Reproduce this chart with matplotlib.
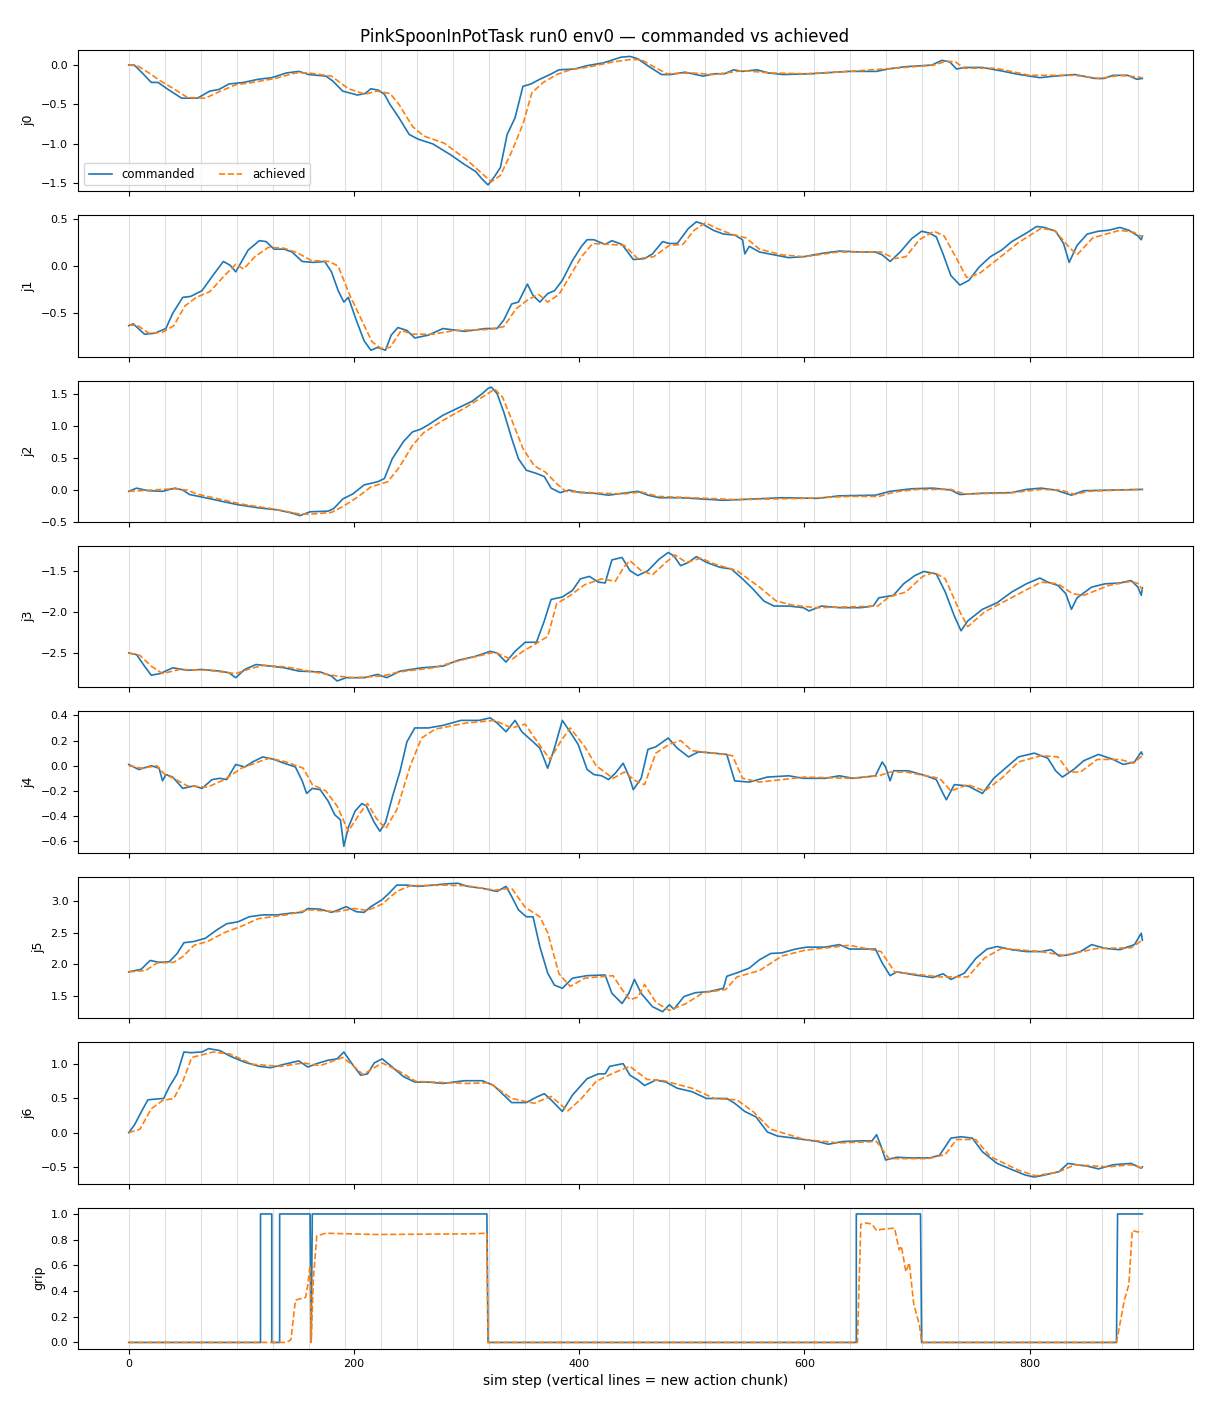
import matplotlib
matplotlib.use("Agg")
import matplotlib.pyplot as plt
from matplotlib.ticker import MultipleLocator

# new action chunk starts (sim steps)
chunk_steps = [0, 32, 64, 96, 128, 160, 192, 224, 256, 288, 320, 352, 384, 416,
               448, 480, 512, 544, 576, 608, 640, 672, 704, 736, 768, 800, 832,
               864, 896]

joint_names = ['j0', 'j1', 'j2', 'j3', 'j4', 'j5', 'j6', 'grip']

# (step, value)
j0_cmd = [(0, 0.0), (5, 0.0), (12, -0.10), (20, -0.22), (26, -0.22), (35, -0.31), (47, -0.42),
          (61, -0.42), (72, -0.33), (80, -0.31), (89, -0.24), (102, -0.22), (115, -0.18),
          (127, -0.16), (140, -0.10), (151, -0.08), (160, -0.12), (175, -0.14), (181, -0.20),
          (190, -0.33), (203, -0.38), (210, -0.36), (215, -0.30), (222, -0.32), (227, -0.37),
          (232, -0.50), (240, -0.67), (249, -0.88), (257, -0.94), (270, -1.00), (286, -1.14),
          (298, -1.26), (308, -1.35), (314, -1.45), (319, -1.52), (324, -1.43), (330, -1.30),
          (336, -0.88), (343, -0.67), (350, -0.27), (357, -0.24), (365, -0.18), (374, -0.12),
          (382, -0.06), (396, -0.05), (406, -0.01), (422, 0.03), (437, 0.10), (445, 0.11),
          (452, 0.08), (461, -0.01), (473, -0.12), (481, -0.12), (494, -0.09), (510, -0.14),
          (520, -0.11), (529, -0.11), (537, -0.06), (545, -0.08), (558, -0.06), (568, -0.10),
          (581, -0.12), (606, -0.11), (639, -0.08), (664, -0.08), (674, -0.05), (690, -0.02),
          (713, 0.0), (722, 0.06), (729, 0.04), (735, -0.05), (742, -0.03), (758, -0.03),
          (777, -0.08), (787, -0.11), (800, -0.14), (809, -0.16), (822, -0.14), (840, -0.12),
          (858, -0.17), (866, -0.17), (874, -0.13), (887, -0.13), (895, -0.18), (900, -0.17)]
j0_ach = [(0, 0.0), (8, -0.01), (18, -0.10), (28, -0.20), (40, -0.30), (52, -0.41), (68, -0.42),
          (80, -0.34), (95, -0.25), (110, -0.22), (130, -0.17), (148, -0.10), (160, -0.10),
          (180, -0.14), (195, -0.30), (210, -0.37), (220, -0.33), (232, -0.36), (240, -0.50),
          (252, -0.78), (262, -0.90), (280, -0.99), (300, -1.20), (314, -1.38), (322, -1.48),
          (330, -1.40), (340, -1.10), (350, -0.75), (358, -0.35), (368, -0.22), (380, -0.12),
          (392, -0.06), (410, -0.02), (430, 0.04), (445, 0.07), (455, 0.07), (466, -0.02),
          (478, -0.11), (500, -0.10), (520, -0.12), (545, -0.07), (570, -0.10), (600, -0.11),
          (640, -0.08), (680, -0.04), (715, 0.0), (726, 0.05), (734, 0.04), (742, -0.04),
          (770, -0.04), (800, -0.13), (840, -0.13), (862, -0.17), (880, -0.13), (895, -0.15),
          (900, -0.16)]

j1_cmd = [(0, -0.63), (4, -0.61), (14, -0.72), (23, -0.71), (33, -0.66), (39, -0.50), (48, -0.33),
          (55, -0.32), (65, -0.26), (74, -0.11), (84, 0.05), (90, 0.01), (95, -0.06), (106, 0.17),
          (116, 0.27), (122, 0.26), (129, 0.18), (138, 0.18), (145, 0.15), (154, 0.05),
          (164, 0.04), (174, 0.05), (180, -0.06), (186, -0.26), (191, -0.38), (195, -0.33),
          (202, -0.57), (209, -0.79), (215, -0.89), (221, -0.86), (228, -0.89), (233, -0.73),
          (239, -0.65), (247, -0.68), (254, -0.76), (266, -0.73), (279, -0.66), (298, -0.69),
          (317, -0.66), (327, -0.66), (333, -0.57), (340, -0.40), (346, -0.38), (354, -0.19),
          (359, -0.31), (365, -0.38), (372, -0.29), (378, -0.26), (385, -0.15), (394, 0.06),
          (402, 0.21), (407, 0.28), (413, 0.28), (423, 0.23), (429, 0.27), (438, 0.23),
          (448, 0.07), (458, 0.08), (465, 0.13), (474, 0.26), (480, 0.24), (487, 0.24),
          (497, 0.40), (504, 0.47), (509, 0.45), (519, 0.38), (528, 0.34), (538, 0.33),
          (545, 0.28), (547, 0.13), (551, 0.21), (560, 0.15), (573, 0.12), (586, 0.09),
          (599, 0.10), (618, 0.14), (631, 0.16), (650, 0.15), (663, 0.15), (669, 0.12),
          (676, 0.05), (685, 0.15), (695, 0.29), (704, 0.37), (711, 0.35), (717, 0.31),
          (723, 0.13), (730, -0.10), (738, -0.20), (746, -0.15), (755, -0.01), (765, 0.10),
          (775, 0.17), (784, 0.26), (797, 0.35), (806, 0.42), (813, 0.41), (823, 0.37),
          (830, 0.24), (835, 0.04), (842, 0.22), (851, 0.34), (861, 0.37), (870, 0.38),
          (880, 0.41), (888, 0.38), (896, 0.32), (899, 0.28), (900, 0.32)]
j1_ach = [(0, -0.62), (8, -0.63), (18, -0.71), (30, -0.70), (40, -0.63), (50, -0.42), (60, -0.33),
          (72, -0.27), (85, -0.10), (95, 0.02), (102, -0.03), (112, 0.10), (124, 0.20),
          (138, 0.19), (150, 0.14), (162, 0.06), (178, 0.05), (186, 0.0), (196, -0.30),
          (206, -0.55), (216, -0.80), (224, -0.87), (232, -0.86), (242, -0.68), (252, -0.72),
          (270, -0.72), (290, -0.68), (320, -0.67), (333, -0.64), (344, -0.45), (355, -0.35),
          (364, -0.30), (372, -0.38), (382, -0.30), (392, -0.10), (402, 0.10), (412, 0.24),
          (428, 0.23), (440, 0.22), (452, 0.08), (466, 0.10), (480, 0.22), (492, 0.23),
          (502, 0.38), (512, 0.46), (522, 0.40), (535, 0.34), (548, 0.30), (560, 0.18),
          (580, 0.12), (600, 0.10), (630, 0.15), (668, 0.15), (680, 0.08), (690, 0.10),
          (702, 0.28), (715, 0.37), (724, 0.32), (735, 0.08), (744, -0.12), (755, -0.08),
          (770, 0.06), (790, 0.25), (810, 0.40), (822, 0.38), (835, 0.20), (842, 0.12),
          (856, 0.30), (880, 0.38), (892, 0.36), (900, 0.31)]

j2_cmd = [(0, -0.02), (7, 0.03), (17, -0.01), (30, -0.02), (41, 0.03), (48, 0.0), (54, -0.07),
          (68, -0.12), (81, -0.17), (97, -0.23), (116, -0.28), (132, -0.31), (145, -0.36),
          (152, -0.40), (161, -0.34), (177, -0.33), (182, -0.29), (190, -0.14), (199, -0.06),
          (209, 0.08), (221, 0.13), (227, 0.18), (234, 0.49), (244, 0.76), (252, 0.91),
          (259, 0.95), (266, 1.02), (279, 1.17), (292, 1.28), (305, 1.39), (314, 1.51),
          (319, 1.59), (322, 1.61), (327, 1.51), (333, 1.22), (340, 0.81), (346, 0.49),
          (353, 0.31), (362, 0.26), (369, 0.21), (375, 0.03), (383, -0.04), (391, 0.0),
          (401, -0.04), (413, -0.05), (426, -0.08), (439, -0.05), (452, -0.02), (461, -0.08),
          (471, -0.12), (490, -0.12), (509, -0.14), (528, -0.16), (554, -0.14), (580, -0.12),
          (612, -0.13), (631, -0.09), (663, -0.08), (676, -0.02), (695, 0.02), (714, 0.03),
          (730, 0.0), (738, -0.07), (757, -0.05), (784, -0.04), (797, 0.01), (810, 0.03),
          (823, 0.0), (837, -0.08), (848, -0.01), (874, 0.0), (900, 0.01)]
j2_ach = [(0, -0.02), (20, 0.0), (40, 0.02), (52, 0.0), (60, -0.06), (80, -0.14), (100, -0.22),
          (130, -0.30), (150, -0.37), (160, -0.38), (180, -0.35), (190, -0.26), (204, -0.10),
          (215, 0.05), (230, 0.13), (240, 0.35), (252, 0.70), (262, 0.90), (280, 1.10),
          (300, 1.30), (318, 1.50), (325, 1.58), (332, 1.45), (340, 1.10), (350, 0.65),
          (360, 0.38), (370, 0.28), (380, 0.10), (388, -0.02), (400, -0.03), (420, -0.05),
          (440, -0.06), (455, -0.03), (470, -0.10), (500, -0.12), (540, -0.15), (600, -0.13),
          (640, -0.10), (666, -0.10), (680, -0.03), (700, 0.01), (730, 0.01), (742, -0.06),
          (780, -0.05), (810, 0.01), (828, 0.0), (840, -0.07), (852, -0.02), (880, 0.0),
          (900, 0.01)]

j3_cmd = [(0, -2.50), (7, -2.52), (14, -2.66), (20, -2.77), (28, -2.75), (39, -2.68), (52, -2.71),
          (65, -2.70), (81, -2.72), (89, -2.74), (95, -2.80), (103, -2.70), (113, -2.64),
          (126, -2.66), (138, -2.68), (151, -2.72), (170, -2.73), (180, -2.78), (185, -2.84),
          (193, -2.80), (209, -2.80), (221, -2.76), (229, -2.80), (241, -2.72), (260, -2.68),
          (279, -2.66), (292, -2.59), (308, -2.54), (321, -2.48), (327, -2.50), (335, -2.61),
          (343, -2.48), (352, -2.37), (362, -2.37), (369, -2.11), (375, -1.85), (385, -1.82),
          (394, -1.74), (401, -1.60), (409, -1.57), (417, -1.64), (423, -1.65), (429, -1.37),
          (438, -1.34), (445, -1.50), (452, -1.56), (461, -1.50), (471, -1.36), (479, -1.28),
          (484, -1.32), (490, -1.44), (497, -1.40), (504, -1.33), (513, -1.40), (525, -1.46),
          (535, -1.48), (545, -1.60), (554, -1.72), (564, -1.87), (573, -1.93), (586, -1.93),
          (599, -1.95), (604, -1.99), (615, -1.93), (631, -1.95), (650, -1.95), (661, -1.93),
          (666, -1.83), (679, -1.80), (688, -1.66), (698, -1.56), (706, -1.51), (717, -1.54),
          (725, -1.76), (733, -2.05), (739, -2.23), (745, -2.11), (758, -1.97), (771, -1.89),
          (784, -1.76), (797, -1.66), (809, -1.59), (816, -1.64), (825, -1.68), (832, -1.78),
          (837, -1.97), (842, -1.83), (855, -1.70), (867, -1.66), (880, -1.65), (890, -1.62),
          (896, -1.70), (899, -1.80), (900, -1.71)]
j3_ach = [(0, -2.50), (10, -2.53), (20, -2.66), (30, -2.75), (45, -2.70), (70, -2.71),
          (95, -2.75), (108, -2.69), (120, -2.65), (140, -2.67), (160, -2.72), (185, -2.78),
          (200, -2.80), (225, -2.78), (240, -2.73), (270, -2.68), (300, -2.57), (325, -2.49),
          (340, -2.58), (350, -2.48), (360, -2.40), (372, -2.30), (380, -1.90), (390, -1.82),
          (405, -1.67), (420, -1.60), (432, -1.63), (440, -1.45), (445, -1.38), (455, -1.50),
          (465, -1.55), (477, -1.40), (485, -1.31), (495, -1.40), (508, -1.35), (520, -1.42),
          (540, -1.50), (560, -1.70), (575, -1.87), (590, -1.92), (610, -1.95), (640, -1.94),
          (665, -1.93), (675, -1.82), (690, -1.76), (705, -1.57), (715, -1.52), (725, -1.60),
          (738, -2.00), (745, -2.18), (760, -2.00), (785, -1.82), (810, -1.64), (825, -1.66),
          (838, -1.78), (848, -1.80), (870, -1.68), (890, -1.63), (897, -1.66), (900, -1.74)]

j4_cmd = [(0, 0.01), (9, -0.03), (20, 0.0), (27, -0.02), (30, -0.12), (33, -0.07), (39, -0.09),
          (48, -0.18), (58, -0.16), (65, -0.18), (74, -0.11), (81, -0.10), (87, -0.11),
          (95, 0.01), (103, -0.01), (110, 0.03), (119, 0.07), (129, 0.05), (138, 0.02),
          (148, -0.01), (154, -0.12), (158, -0.22), (163, -0.18), (170, -0.19), (177, -0.28),
          (183, -0.39), (188, -0.43), (191, -0.64), (195, -0.49), (201, -0.36), (207, -0.30),
          (211, -0.32), (218, -0.45), (223, -0.52), (228, -0.45), (234, -0.25), (241, -0.04),
          (247, 0.19), (254, 0.30), (266, 0.30), (279, 0.32), (295, 0.36), (311, 0.36),
          (321, 0.38), (327, 0.34), (335, 0.27), (343, 0.36), (349, 0.27), (359, 0.19),
          (365, 0.14), (372, -0.02), (378, 0.14), (385, 0.36), (391, 0.28), (399, 0.17),
          (407, -0.03), (413, -0.07), (420, -0.08), (426, -0.11), (432, -0.06), (439, 0.02),
          (444, -0.08), (448, -0.19), (455, -0.10), (461, 0.13), (468, 0.15), (479, 0.22),
          (487, 0.14), (497, 0.07), (506, 0.11), (519, 0.10), (531, 0.09), (538, -0.12),
          (551, -0.13), (567, -0.09), (586, -0.08), (599, -0.10), (618, -0.10), (631, -0.08),
          (643, -0.10), (663, -0.08), (669, 0.03), (672, -0.01), (676, -0.12), (679, -0.04),
          (692, -0.04), (708, -0.08), (717, -0.11), (723, -0.22), (726, -0.27), (733, -0.15),
          (745, -0.16), (758, -0.22), (768, -0.10), (777, -0.03), (790, 0.07), (804, 0.10),
          (816, 0.06), (823, -0.04), (829, -0.09), (839, -0.03), (848, 0.04), (861, 0.09),
          (874, 0.05), (883, 0.01), (893, 0.03), (899, 0.11), (900, 0.09)]
j4_ach = [(0, 0.0), (12, -0.02), (25, 0.0), (32, -0.07), (40, -0.10), (52, -0.16), (70, -0.17),
          (85, -0.11), (100, -0.02), (115, 0.03), (125, 0.06), (140, 0.03), (155, -0.02),
          (163, -0.15), (175, -0.20), (185, -0.32), (195, -0.52), (205, -0.38), (212, -0.30),
          (220, -0.42), (228, -0.50), (238, -0.35), (250, 0.0), (260, 0.22), (272, 0.29),
          (300, 0.34), (325, 0.36), (340, 0.30), (352, 0.33), (362, 0.20), (374, 0.05),
          (384, 0.20), (392, 0.30), (405, 0.15), (415, 0.0), (430, -0.10), (440, -0.05),
          (450, -0.12), (458, -0.15), (468, 0.10), (480, 0.17), (490, 0.20), (500, 0.12),
          (520, 0.10), (536, 0.08), (545, -0.10), (560, -0.13), (600, -0.09), (640, -0.10),
          (666, -0.08), (676, -0.05), (690, -0.05), (720, -0.10), (730, -0.20), (745, -0.15),
          (760, -0.20), (775, -0.10), (790, 0.03), (810, 0.08), (825, 0.07), (835, -0.05),
          (845, -0.05), (860, 0.05), (880, 0.05), (892, 0.02), (900, 0.08)]

j5_cmd = [(0, 1.88), (11, 1.92), (19, 2.06), (27, 2.03), (36, 2.04), (43, 2.17), (49, 2.34),
          (58, 2.36), (68, 2.41), (78, 2.54), (87, 2.64), (97, 2.67), (107, 2.75), (119, 2.78),
          (132, 2.78), (145, 2.81), (154, 2.82), (159, 2.88), (170, 2.87), (180, 2.82),
          (185, 2.85), (193, 2.91), (202, 2.83), (209, 2.82), (215, 2.91), (225, 3.02),
          (231, 3.12), (238, 3.25), (247, 3.25), (257, 3.23), (270, 3.25), (282, 3.27),
          (292, 3.28), (301, 3.23), (314, 3.20), (327, 3.15), (335, 3.23), (340, 3.07),
          (346, 2.86), (353, 2.75), (359, 2.75), (365, 2.28), (372, 1.86), (378, 1.67),
          (385, 1.62), (394, 1.78), (407, 1.82), (423, 1.83), (429, 1.54), (438, 1.38),
          (444, 1.54), (449, 1.76), (455, 1.54), (465, 1.33), (474, 1.25), (480, 1.36),
          (484, 1.29), (493, 1.49), (503, 1.55), (516, 1.57), (528, 1.62), (531, 1.81),
          (541, 1.87), (551, 1.94), (560, 2.07), (570, 2.17), (580, 2.18), (592, 2.24),
          (602, 2.27), (618, 2.27), (631, 2.31), (640, 2.24), (663, 2.24), (669, 2.02),
          (676, 1.82), (682, 1.88), (698, 1.83), (714, 1.79), (723, 1.85), (730, 1.76),
          (742, 1.86), (752, 2.09), (762, 2.24), (771, 2.28), (784, 2.23), (797, 2.20),
          (810, 2.20), (819, 2.23), (826, 2.13), (835, 2.15), (845, 2.20), (855, 2.31),
          (867, 2.25), (880, 2.23), (893, 2.31), (899, 2.49), (900, 2.38)]
j5_ach = [(0, 1.88), (15, 1.90), (25, 2.02), (40, 2.03), (48, 2.12), (58, 2.30), (70, 2.36),
          (85, 2.50), (100, 2.60), (115, 2.72), (140, 2.78), (160, 2.86), (185, 2.83),
          (200, 2.88), (212, 2.85), (225, 2.95), (238, 3.15), (250, 3.24), (280, 3.25),
          (300, 3.24), (325, 3.17), (340, 3.20), (352, 2.90), (365, 2.75), (372, 2.50),
          (382, 1.85), (392, 1.65), (405, 1.78), (430, 1.82), (438, 1.60), (445, 1.44),
          (452, 1.48), (458, 1.68), (468, 1.40), (480, 1.27), (495, 1.38), (510, 1.55),
          (530, 1.60), (540, 1.80), (560, 1.90), (580, 2.13), (600, 2.22), (640, 2.30),
          (668, 2.20), (680, 1.88), (720, 1.80), (745, 1.80), (760, 2.10), (775, 2.25),
          (810, 2.20), (830, 2.14), (860, 2.25), (890, 2.26), (900, 2.38)]

j6_cmd = [(0, 0.0), (5, 0.11), (12, 0.33), (17, 0.48), (23, 0.49), (31, 0.50), (36, 0.67),
          (43, 0.86), (49, 1.18), (55, 1.17), (65, 1.18), (71, 1.23), (81, 1.20), (90, 1.12),
          (103, 1.03), (116, 0.97), (126, 0.95), (138, 1.00), (151, 1.05), (159, 0.96),
          (167, 1.01), (177, 1.06), (185, 1.08), (191, 1.18), (199, 0.99), (206, 0.84),
          (212, 0.86), (218, 1.02), (225, 1.08), (234, 0.96), (244, 0.82), (254, 0.74),
          (266, 0.74), (279, 0.72), (298, 0.76), (314, 0.76), (324, 0.69), (333, 0.55),
          (340, 0.44), (353, 0.44), (362, 0.52), (369, 0.57), (375, 0.48), (385, 0.31),
          (394, 0.55), (407, 0.79), (417, 0.86), (423, 0.86), (427, 0.97), (439, 1.01),
          (445, 0.84), (452, 0.77), (458, 0.69), (468, 0.77), (477, 0.74), (487, 0.65),
          (500, 0.60), (513, 0.50), (522, 0.50), (531, 0.50), (538, 0.43), (547, 0.31),
          (557, 0.23), (567, 0.01), (576, -0.05), (586, -0.07), (599, -0.10), (612, -0.13),
          (621, -0.17), (634, -0.13), (650, -0.12), (660, -0.12), (664, -0.03), (668, -0.20),
          (672, -0.40), (682, -0.36), (695, -0.37), (711, -0.37), (720, -0.33), (730, -0.08),
          (739, -0.06), (749, -0.08), (758, -0.28), (771, -0.45), (784, -0.54), (796, -0.62),
          (804, -0.65), (813, -0.62), (826, -0.57), (834, -0.45), (842, -0.47), (851, -0.49),
          (861, -0.53), (874, -0.47), (890, -0.45), (899, -0.52), (900, -0.50)]
j6_ach = [(0, 0.0), (10, 0.05), (20, 0.35), (30, 0.47), (40, 0.50), (48, 0.75), (56, 1.10),
          (75, 1.18), (90, 1.15), (110, 1.00), (135, 0.97), (155, 1.02), (170, 0.98),
          (190, 1.10), (198, 1.00), (208, 0.85), (225, 1.02), (240, 0.90), (255, 0.75),
          (300, 0.72), (320, 0.73), (340, 0.50), (360, 0.43), (375, 0.53), (390, 0.32),
          (402, 0.50), (415, 0.75), (430, 0.87), (445, 0.97), (460, 0.78), (475, 0.76),
          (500, 0.65), (520, 0.50), (540, 0.48), (555, 0.30), (570, 0.05), (600, -0.10),
          (630, -0.15), (664, -0.13), (675, -0.38), (710, -0.38), (725, -0.32), (735, -0.10),
          (752, -0.10), (765, -0.35), (790, -0.55), (805, -0.63), (825, -0.58), (840, -0.47),
          (870, -0.50), (890, -0.47), (900, -0.52)]

grip_cmd = [(0, 0), (117, 0), (117, 1), (127, 1), (127, 0), (134, 0), (134, 1), (161, 1),
            (162, 0), (163, 1), (318, 1), (319, 0), (646, 0), (646, 1), (703, 1), (704, 0),
            (877, 0), (878, 1), (900, 1)]
grip_ach = [(0, 0), (140, 0), (144, 0.02), (148, 0.33), (157, 0.35), (159, 0.45), (161, 0.6),
            (162, 0.0), (164, 0.5), (167, 0.83), (175, 0.85), (220, 0.84), (300, 0.845),
            (318, 0.85), (319, 0), (647, 0), (650, 0.92), (655, 0.93), (660, 0.92),
            (664, 0.87), (668, 0.88), (680, 0.89), (684, 0.72), (686, 0.75), (690, 0.55),
            (693, 0.62), (697, 0.30), (700, 0.20), (702, 0.14), (704, 0.0), (877, 0),
            (884, 0.33), (888, 0.45), (891, 0.87), (896, 0.86), (900, 0.86)]

commanded = [j0_cmd, j1_cmd, j2_cmd, j3_cmd, j4_cmd, j5_cmd, j6_cmd, grip_cmd]
achieved = [j0_ach, j1_ach, j2_ach, j3_ach, j4_ach, j5_ach, j6_ach, grip_ach]

fig, axes = plt.subplots(8, 1, figsize=(12.1, 14.08), dpi=100, sharex=True)
fig.subplots_adjust(left=0.0645, right=0.986, top=0.9645, bottom=0.042, hspace=0.17)

for ax, name, cmd, ach in zip(axes, joint_names, commanded, achieved):
    for s in chunk_steps:
        ax.axvline(s, color='gray', lw=0.8, alpha=0.25, zorder=0)
    cx, cy = zip(*cmd)
    axx, ay = zip(*ach)
    ax.plot(cx, cy, color='C0', lw=1.2, label='commanded')
    ax.plot(axx, ay, color='C1', lw=1.2, ls='--', label='achieved')
    ax.set_ylabel(name, fontsize=9)
    ax.tick_params(labelsize=8)

axes[1].yaxis.set_major_locator(MultipleLocator(0.5))

axes[0].legend(loc='lower left', ncol=2, fontsize=8.5)
axes[-1].set_xlabel('sim step (vertical lines = new action chunk)', fontsize=10)
fig.suptitle('PinkSpoonInPotTask run0 env0 — commanded vs achieved', fontsize=12, y=0.98)

fig.savefig('out.png', dpi=100)
